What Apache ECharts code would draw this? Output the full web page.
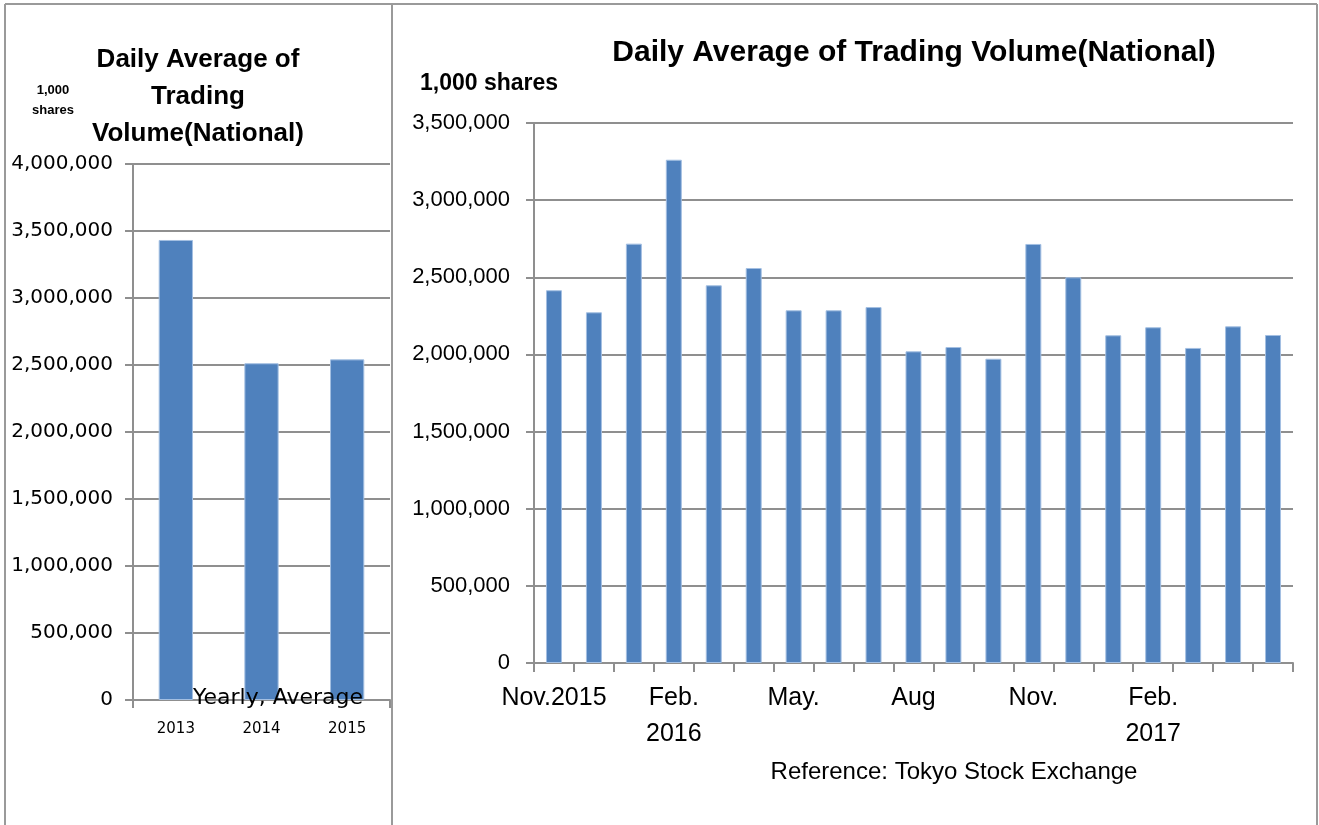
<!DOCTYPE html>
<html>
<head>
<meta charset="utf-8">
<script src="https://cdn.jsdelivr.net/npm/echarts@6/dist/echarts.min.js"></script>
<style>
  html, body { margin: 0; padding: 0; background: #fff; }
  #chart { width: 1319px; height: 825px; }
</style>
</head>
<body>
<div id="chart"></div>
<script>
// Yearly averages (1,000 shares)
const yearCategories = ['2013', '2014', '2015'];
const yearValues = [3433000, 2513000, 2542000];

// Monthly daily-average volume, Nov. 2015 – May 2017 (1,000 shares)
const monthCategories = [
  '2015-11', '2015-12', '2016-01', '2016-02', '2016-03', '2016-04', '2016-05',
  '2016-06', '2016-07', '2016-08', '2016-09', '2016-10', '2016-11', '2016-12',
  '2017-01', '2017-02', '2017-03', '2017-04', '2017-05'
];
const monthValues = [
  2416000, 2273000, 2718000, 3262000, 2448000, 2560000, 2286000,
  2286000, 2307000, 2020000, 2048000, 1972000, 2716000, 2500000,
  2124000, 2176000, 2042000, 2182000, 2126000
];
const monthTickLabels = [
  'Nov.2015', '', '', 'Feb.\n2016', '', '', 'May.', '', '', 'Aug', '', '',
  'Nov.', '', '', 'Feb.\n2017', '', '', ''
];

const NARROW = '"Liberation Sans", Arial, sans-serif';
const ROUND = '"DejaVu Sans", Verdana, sans-serif';
const GRID_GRAY = '#8f8f8f';
const BAR_BLUE = '#4F81BD';
const BORDER_GRAY = '#9a9a9a';

const fmt = v => v.toLocaleString('en-US');

const chart = echarts.init(document.getElementById('chart'), null, { renderer: 'canvas' });

chart.setOption({
  animation: false,
  backgroundColor: '#ffffff',
  title: [
    {
      text: 'Daily Average of\nTrading\nVolume(National)',
      left: 193, top: 36, textAlign: 'center',
      textStyle: { fontFamily: NARROW, fontWeight: 'bold', fontSize: 26, lineHeight: 37, color: '#000' }
    },
    {
      text: '1,000\nshares',
      left: 48, top: 75, textAlign: 'center',
      textStyle: { fontFamily: NARROW, fontWeight: 'bold', fontSize: 13, lineHeight: 20, color: '#000' }
    },
    {
      text: 'Daily Average of Trading Volume(National)',
      left: 909, top: 33, textAlign: 'center',
      textStyle: { fontFamily: NARROW, fontWeight: 'bold', fontSize: 30, color: '#000' }
    },
    {
      text: '1,000 shares',
      left: 415, top: 67,
      textStyle: { fontFamily: NARROW, fontWeight: 'bold', fontSize: 23, color: '#000' }
    },
    {
      text: 'Reference: Tokyo Stock Exchange',
      left: 949, top: 755, textAlign: 'center',
      textStyle: { fontFamily: NARROW, fontWeight: 'normal', fontSize: 24, color: '#000' }
    }
  ],
  grid: [
    { left: 133, right: 929, top: 164, bottom: 125 },
    { left: 534, right: 26, top: 123, bottom: 162 }
  ],
  xAxis: [
    {
      gridIndex: 0,
      type: 'category',
      data: yearCategories,
      axisLine: { lineStyle: { color: GRID_GRAY, width: 2 } },
      axisTick: { show: true, length: 8, interval: i => i === 0, lineStyle: { color: GRID_GRAY, width: 2 } },
      axisLabel: { fontFamily: ROUND, fontSize: 15, color: '#000', margin: 22 }
    },
    {
      gridIndex: 1,
      type: 'category',
      data: monthCategories,
      axisLine: { lineStyle: { color: GRID_GRAY, width: 2 } },
      axisTick: { show: true, length: 9, lineStyle: { color: GRID_GRAY, width: 2 } },
      axisLabel: {
        interval: 0,
        fontFamily: NARROW, fontSize: 25, lineHeight: 36, color: '#000', margin: 17,
        formatter: (v, i) => monthTickLabels[i]
      }
    }
  ],
  yAxis: [
    {
      gridIndex: 0,
      type: 'value',
      min: 0, max: 4000000, interval: 500000,
      axisLine: { show: true, lineStyle: { color: GRID_GRAY, width: 2 } },
      axisTick: { show: true, length: 8, lineStyle: { color: GRID_GRAY, width: 2 } },
      splitLine: { lineStyle: { color: GRID_GRAY, width: 2 } },
      axisLabel: { fontFamily: ROUND, fontSize: 20, color: '#000', margin: 20, formatter: fmt }
    },
    {
      gridIndex: 1,
      type: 'value',
      min: 0, max: 3500000, interval: 500000,
      axisLine: { show: true, lineStyle: { color: GRID_GRAY, width: 2 } },
      axisTick: { show: true, length: 8, lineStyle: { color: GRID_GRAY, width: 2 } },
      splitLine: { lineStyle: { color: GRID_GRAY, width: 2 } },
      axisLabel: { fontFamily: NARROW, fontSize: 22, color: '#000', margin: 24, formatter: fmt }
    }
  ],
  series: [
    {
      type: 'bar',
      xAxisIndex: 0, yAxisIndex: 0,
      data: yearValues,
      barWidth: '40%',
      itemStyle: { color: BAR_BLUE, borderColor: '#a3bfe2', borderWidth: 1 }
    },
    {
      type: 'bar',
      xAxisIndex: 1, yAxisIndex: 1,
      data: monthValues,
      barWidth: '40%',
      itemStyle: { color: BAR_BLUE, borderColor: '#a3bfe2', borderWidth: 1 }
    }
  ],
  graphic: [
    // panel frame and divider
    { type: 'line', shape: { x1: 5, y1: 4, x2: 1317, y2: 4 }, style: { stroke: BORDER_GRAY, lineWidth: 2 } },
    { type: 'line', shape: { x1: 5, y1: 4, x2: 5, y2: 825 }, style: { stroke: BORDER_GRAY, lineWidth: 2 } },
    { type: 'line', shape: { x1: 1317, y1: 4, x2: 1317, y2: 825 }, style: { stroke: BORDER_GRAY, lineWidth: 2 } },
    { type: 'line', shape: { x1: 392, y1: 4, x2: 392, y2: 825 }, style: { stroke: BORDER_GRAY, lineWidth: 2 } },
    // caption for the yearly panel, sitting on the category axis
    {
      type: 'text', left: 193, top: 687, z: 10,
      style: { text: 'Yearly, Average', fontFamily: ROUND, fontSize: 22, fill: '#000' }
    }
  ]
});
</script>
</body>
</html>
